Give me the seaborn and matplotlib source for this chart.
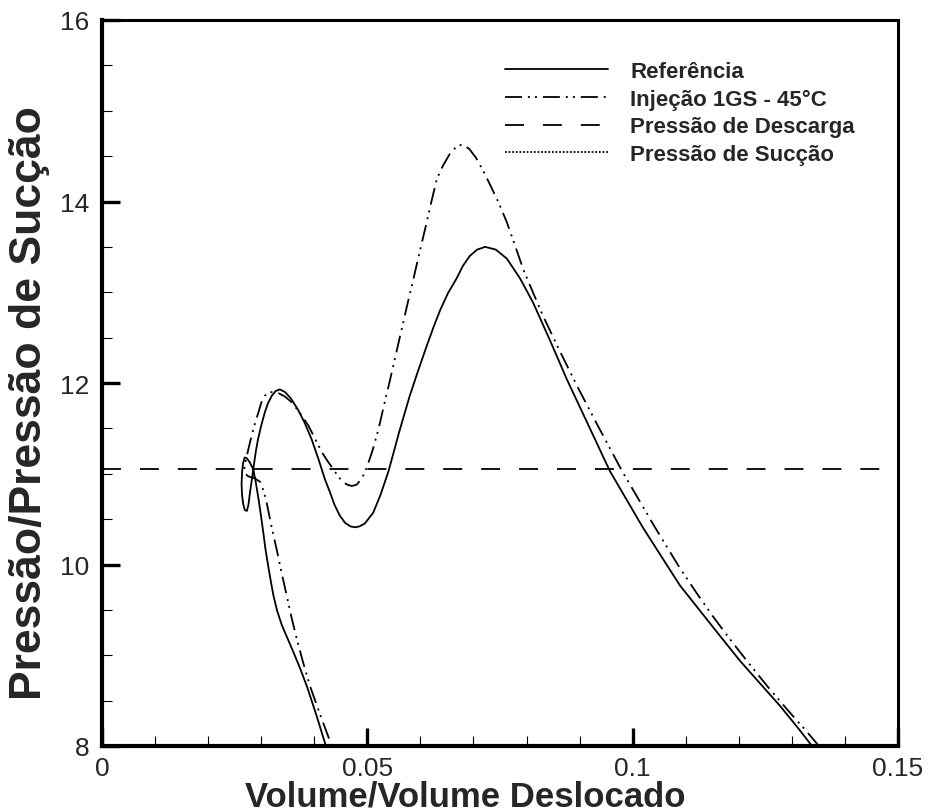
import matplotlib
matplotlib.use("Agg")
import matplotlib.pyplot as plt
import seaborn as sns
from matplotlib.ticker import MultipleLocator

# ---- data ----
ref_x = [0.1338, 0.1310, 0.1278, 0.1240, 0.1202, 0.1165, 0.1127, 0.1089, 0.1055, 0.1019,
         0.0990, 0.0957, 0.0917, 0.0876, 0.0845, 0.0812, 0.0788, 0.0763, 0.0742, 0.0722,
         0.0707, 0.0693, 0.0680, 0.0668, 0.0652, 0.0637, 0.0625, 0.0612, 0.0596, 0.0580,
         0.0560, 0.0540, 0.0525, 0.0511, 0.0495, 0.0485, 0.0477, 0.0468, 0.0458, 0.0448,
         0.0438, 0.0430, 0.0420, 0.0408, 0.0395, 0.0382, 0.0369, 0.0356, 0.0345, 0.0335,
         0.0327, 0.0320, 0.0313, 0.0307, 0.0300, 0.0294, 0.0290, 0.0287, 0.0283, 0.0279,
         0.0276, 0.0273, 0.0269, 0.0266, 0.0264, 0.0263, 0.0264, 0.0266, 0.0269, 0.0273,
         0.0278, 0.0285, 0.0290, 0.0295, 0.0300, 0.0304, 0.0308, 0.0313, 0.0318, 0.0323,
         0.0330, 0.0339, 0.0350, 0.0361, 0.0373, 0.0386, 0.0404, 0.0422]
ref_y = [8.00, 8.21, 8.44, 8.69, 8.94, 9.21, 9.49, 9.77, 10.08, 10.41,
         10.70, 11.03, 11.53, 12.04, 12.46, 12.89, 13.15, 13.37, 13.47, 13.50,
         13.47, 13.40, 13.29, 13.15, 12.99, 12.80, 12.62, 12.41, 12.14, 11.86,
         11.46, 11.03, 10.77, 10.57, 10.45, 10.42, 10.41, 10.42, 10.46, 10.54,
         10.66, 10.79, 10.94, 11.16, 11.38, 11.56, 11.71, 11.83, 11.90, 11.93,
         11.91, 11.86, 11.78, 11.68, 11.53, 11.38, 11.25, 11.13, 10.96, 10.80,
         10.66, 10.59, 10.60, 10.67, 10.76, 10.88, 11.02, 11.12, 11.18, 11.17,
         11.13, 11.05, 10.90, 10.72, 10.52, 10.35, 10.17, 9.99, 9.82, 9.66,
         9.49, 9.33, 9.18, 9.03, 8.86, 8.66, 8.34, 8.00]

inj_x = [0.1351, 0.1325, 0.1296, 0.1255, 0.1215, 0.1183, 0.1151, 0.1120, 0.1089, 0.1042,
         0.1011, 0.0980, 0.0937, 0.0895, 0.0862, 0.0831, 0.0812, 0.0794, 0.0778, 0.0763,
         0.0748, 0.0735, 0.0720, 0.0705, 0.0692, 0.0679, 0.0667, 0.0655, 0.0643, 0.0631,
         0.0620, 0.0609, 0.0598, 0.0587, 0.0576, 0.0565, 0.0554, 0.0543, 0.0532, 0.0521,
         0.0510, 0.0499, 0.0490, 0.0480, 0.0471, 0.0462, 0.0454, 0.0445, 0.0436, 0.0425,
         0.0414, 0.0402, 0.0389, 0.0373, 0.0357, 0.0345, 0.0332, 0.0320, 0.0313, 0.0307,
         0.0300, 0.0295, 0.0288, 0.0282, 0.0277, 0.0273, 0.0270, 0.0268, 0.0270, 0.0276,
         0.0288, 0.0298, 0.0304, 0.0310, 0.0319, 0.0329, 0.0338, 0.0348, 0.0357, 0.0367,
         0.0379, 0.0392, 0.0412, 0.0433]
inj_y = [8.00, 8.18, 8.37, 8.65, 8.94, 9.18, 9.43, 9.69, 9.96, 10.41,
         10.72, 11.03, 11.50, 11.97, 12.36, 12.74, 13.00, 13.25, 13.52, 13.77,
         13.98, 14.14, 14.32, 14.48, 14.58, 14.63, 14.60, 14.52, 14.40, 14.25,
         13.98, 13.70, 13.43, 13.15, 12.88, 12.60, 12.32, 12.04, 11.77, 11.49,
         11.26, 11.07, 10.95, 10.88, 10.865, 10.88, 10.91, 10.97, 11.05, 11.14,
         11.24, 11.38, 11.53, 11.67, 11.79, 11.85, 11.89, 11.90, 11.89, 11.86,
         11.78, 11.68, 11.55, 11.42, 11.30, 11.20, 11.12, 11.05, 11.00, 10.97,
         10.95, 10.91, 10.82, 10.69, 10.43, 10.17, 9.92, 9.66, 9.42, 9.18,
         8.92, 8.66, 8.33, 8.00]

desc_x = [0.0, 0.15]
desc_y = [11.05, 11.05]
succ_x = [0.0, 0.15]
succ_y = [1.0, 1.0]

labels = ["Referência", "Injeção 1GS - 45°C",
          "Pressão de Descarga", "Pressão de Sucção"]

# ---- style ----
sns.set_theme(style="white")
plt.rcParams["font.family"] = ["Liberation Sans", "DejaVu Sans"]

fig = plt.figure(figsize=(9.29, 8.12), dpi=100)
ax = fig.add_axes([102 / 929, 65 / 812, 796 / 929, 726 / 812])

lw = 1.3
sns.lineplot(x=ref_x, y=ref_y, sort=False, estimator=None, ax=ax, color="black",
             lw=lw, label=labels[0])
sns.lineplot(x=inj_x, y=inj_y, sort=False, estimator=None, ax=ax, color="black",
             lw=lw, label=labels[1])
ax.lines[-1].set_dashes([9.4, 3.3, 1.1, 2.8, 1.1, 3.3])
sns.lineplot(x=desc_x, y=desc_y, sort=False, estimator=None, ax=ax, color="black",
             lw=lw, label=labels[2])
ax.lines[-1].set_dashes([10.5, 10.5])
sns.lineplot(x=succ_x, y=succ_y, sort=False, estimator=None, ax=ax, color="black",
             lw=lw, label=labels[3])
ax.lines[-1].set_dashes([1.0, 1.0])

ax.set_xlim(0, 0.15)
ax.set_ylim(8, 16)
ax.xaxis.set_minor_locator(MultipleLocator(0.01))
ax.yaxis.set_minor_locator(MultipleLocator(0.5))
ax.set_xticks([0, 0.05, 0.1, 0.15])
ax.set_xticklabels(["0", "0.05", "0.1", "0.15"])
ax.set_yticks([8, 10, 12, 14, 16])
ax.set_yticklabels(["8", "10", "12", "14", "16"])

ax.tick_params(which="major", direction="in", length=13, width=2.4, labelsize=19,
               pad=7, top=False, right=False, left=True, bottom=True, color="black")
ax.tick_params(axis="y", which="major", pad=9)
ax.tick_params(which="minor", direction="in", length=7, width=0.8,
               top=False, right=False, left=True, bottom=True, color="black")

for side in ["left", "bottom"]:
    ax.spines[side].set_linewidth(3.0)
for side in ["top", "right"]:
    ax.spines[side].set_linewidth(2.2)
for s in ax.spines.values():
    s.set_color("black")

ax.set_xlabel("Volume/Volume Deslocado", fontsize=25, fontweight="bold")
ax.xaxis.set_label_coords((465 - 102) / 796, (747 - 781) / 726)
ax.set_ylabel("Pressão/Pressão de Sucção", fontsize=32, fontweight="bold")
ax.yaxis.set_label_coords((50 - 102) / 796, (747 - 403) / 726)

leg = ax.legend(loc="upper left", bbox_to_anchor=((505 - 102) / 796, (747 - 62) / 726),
                frameon=False, handlelength=4.64, handletextpad=1.0, borderpad=0,
                borderaxespad=0, labelspacing=0.30,
                prop={"family": "Liberation Sans", "weight": "bold", "size": 16})

fig.savefig("out.png", dpi=100)
